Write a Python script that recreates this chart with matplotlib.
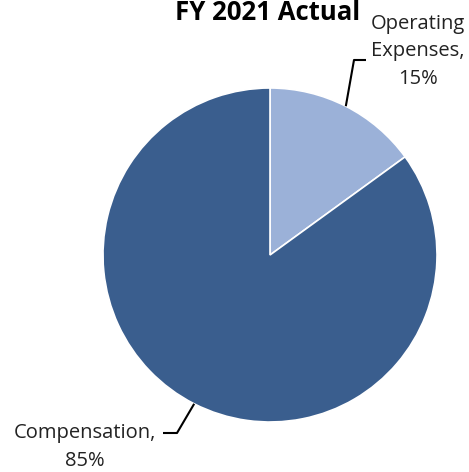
import matplotlib
matplotlib.use("Agg")
import matplotlib.pyplot as plt
import numpy as np

categories = ["Operating Expenses", "Compensation"]
values = [15, 85]
colors = ["#9bb1d8", "#3a5e8e"]
title = "FY 2021 Actual"

plt.rcParams['font.family'] = ['Open Sans', 'DejaVu Sans']

W, H = 469, 472
fig = plt.figure(figsize=(W / 100, H / 100), dpi=100)
cx, cy, r = 270, 255, 167
ax = fig.add_axes([(cx - r) / W, (H - cy - r) / H, 2 * r / W, 2 * r / H])

wedges, _ = ax.pie(values, colors=colors, startangle=90, counterclock=False,
                   radius=1, wedgeprops=dict(edgecolor='white', linewidth=1.2))
ax.set_xlim(-1, 1)
ax.set_ylim(-1, 1)
ax.set_aspect('equal')
ax.axis('off')
for w in wedges:
    w.set_clip_on(False)

def px(x, y):
    return ((x - cx) / r, (cy - y) / r)

# leader lines and labels
elbows = [(354, 60, 366, 60), (177, 433, 163, 433)]
label_pos = [(418, 51), (85, 447)]
for w, v, cat, (ex, ey, hx, hy), (lx, ly) in zip(wedges, values, categories, elbows, label_pos):
    ang = np.deg2rad((w.theta1 + w.theta2) / 2)
    x0, y0 = np.cos(ang), np.sin(ang)
    x1, y1 = px(ex, ey)
    x2, y2 = px(hx, hy)
    ax.plot([x0, x1, x2], [y0, y1, y2], color='black', lw=1.5, clip_on=False,
            solid_capstyle='butt')
    parts = cat.split(" ")
    if len(parts) > 1:
        txt = "\n".join(parts[:-1]) + "\n" + parts[-1] + f",\n{v}%"
    else:
        txt = f"{cat},\n{v}%"
    tx, ty = px(lx, ly)
    ax.text(tx, ty, txt, ha='center', va='center', multialignment='center',
            fontsize=14.5, color='#222222', linespacing=1.5, clip_on=False)

fig.text(268 / W, (H - 20) / H, title, ha='center', va='baseline',
         fontsize=18.5, fontweight='bold', color='black')

fig.savefig("out.png", dpi=100)
